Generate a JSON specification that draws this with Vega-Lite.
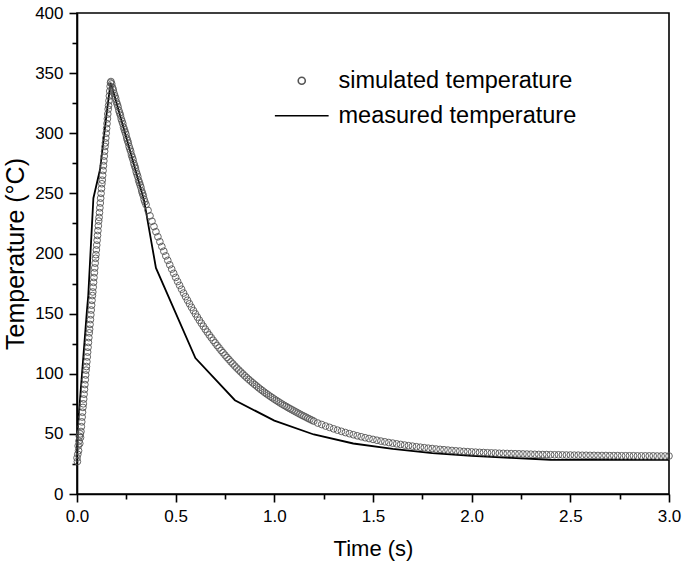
{
  "$schema": "https://vega.github.io/schema/vega-lite/v6.json",
  "width": 592,
  "height": 481,
  "autosize": "none",
  "padding": {"left": 77, "top": 13, "right": 17, "bottom": 81},
  "background": "white",
  "config": {
    "font": "Liberation Sans",
    "view": {"stroke": "black", "strokeWidth": 1.6},
    "axis": {
      "grid": false,
      "labelFlush": false,
      "labelOverlap": false,
      "domainColor": "black",
      "domainWidth": 1.6,
      "tickColor": "black",
      "tickWidth": 1.6,
      "labelColor": "black",
      "titleColor": "black",
      "labelFont": "Liberation Sans",
      "titleFont": "Liberation Sans",
      "labelFontSize": 17,
      "titleFontSize": 22,
      "titleFontWeight": "normal"
    },
    "legend": {
      "orient": "none",
      "legendX": 213,
      "legendY": 56,
      "padding": 0,
      "labelFont": "Liberation Sans",
      "labelFontSize": 23.5,
      "labelColor": "black",
      "labelLimit": 0,
      "labelOffset": 25,
      "rowPadding": 10,
      "symbolSize": 50,
      "symbolStrokeWidth": 1.6
    }
  },
  "datasets": {
    "simulated": [
      {"t": 0, "temp": 30}, {"t": 0.002, "temp": 27}, {"t": 0.004, "temp": 33}, {"t": 0.006, "temp": 40},
      {"t": 0.008, "temp": 36}, {"t": 0.01, "temp": 44}, {"t": 0.012, "temp": 48}, {"t": 0.014, "temp": 42},
      {"t": 0.016, "temp": 50}, {"t": 0.018, "temp": 47}, {"t": 0.02, "temp": 52},
      {"t": 0.022, "temp": 56}, {"t": 0.024, "temp": 60}, {"t": 0.026, "temp": 64}, {"t": 0.028, "temp": 68},
      {"t": 0.03, "temp": 72}, {"t": 0.032, "temp": 75}, {"t": 0.034, "temp": 79}, {"t": 0.036, "temp": 83},
      {"t": 0.038, "temp": 87}, {"t": 0.04, "temp": 91}, {"t": 0.042, "temp": 95}, {"t": 0.044, "temp": 99},
      {"t": 0.046, "temp": 103}, {"t": 0.048, "temp": 106}, {"t": 0.05, "temp": 110}, {"t": 0.052, "temp": 114},
      {"t": 0.054, "temp": 118}, {"t": 0.056, "temp": 122}, {"t": 0.058, "temp": 126}, {"t": 0.06, "temp": 130},
      {"t": 0.062, "temp": 134}, {"t": 0.064, "temp": 137}, {"t": 0.066, "temp": 141}, {"t": 0.068, "temp": 145},
      {"t": 0.07, "temp": 149}, {"t": 0.072, "temp": 153}, {"t": 0.074, "temp": 157}, {"t": 0.076, "temp": 161},
      {"t": 0.078, "temp": 165}, {"t": 0.08, "temp": 168}, {"t": 0.082, "temp": 172}, {"t": 0.084, "temp": 176},
      {"t": 0.086, "temp": 180}, {"t": 0.088, "temp": 184}, {"t": 0.09, "temp": 188}, {"t": 0.092, "temp": 192},
      {"t": 0.094, "temp": 196}, {"t": 0.096, "temp": 199}, {"t": 0.098, "temp": 203}, {"t": 0.1, "temp": 207},
      {"t": 0.102, "temp": 211}, {"t": 0.104, "temp": 215}, {"t": 0.106, "temp": 219}, {"t": 0.108, "temp": 223},
      {"t": 0.11, "temp": 227}, {"t": 0.112, "temp": 230}, {"t": 0.114, "temp": 234}, {"t": 0.116, "temp": 238},
      {"t": 0.118, "temp": 242}, {"t": 0.12, "temp": 246}, {"t": 0.122, "temp": 250}, {"t": 0.124, "temp": 254},
      {"t": 0.126, "temp": 258}, {"t": 0.128, "temp": 261}, {"t": 0.13, "temp": 265}, {"t": 0.132, "temp": 269},
      {"t": 0.134, "temp": 273}, {"t": 0.136, "temp": 277}, {"t": 0.138, "temp": 281}, {"t": 0.14, "temp": 285},
      {"t": 0.142, "temp": 289}, {"t": 0.144, "temp": 292}, {"t": 0.146, "temp": 296}, {"t": 0.148, "temp": 300},
      {"t": 0.15, "temp": 304}, {"t": 0.152, "temp": 308}, {"t": 0.154, "temp": 312}, {"t": 0.156, "temp": 316},
      {"t": 0.158, "temp": 320}, {"t": 0.16, "temp": 323}, {"t": 0.162, "temp": 327}, {"t": 0.164, "temp": 331},
      {"t": 0.166, "temp": 335}, {"t": 0.168, "temp": 339}, {"t": 0.17, "temp": 342}, {"t": 0.172, "temp": 343},
      {"t": 0.176, "temp": 341}, {"t": 0.18, "temp": 338}, {"t": 0.184, "temp": 336}, {"t": 0.188, "temp": 333},
      {"t": 0.192, "temp": 331}, {"t": 0.196, "temp": 329}, {"t": 0.2, "temp": 326}, {"t": 0.204, "temp": 324},
      {"t": 0.208, "temp": 322}, {"t": 0.212, "temp": 319}, {"t": 0.216, "temp": 317}, {"t": 0.22, "temp": 315},
      {"t": 0.224, "temp": 312}, {"t": 0.228, "temp": 310}, {"t": 0.232, "temp": 308}, {"t": 0.236, "temp": 305},
      {"t": 0.24, "temp": 303}, {"t": 0.244, "temp": 301}, {"t": 0.248, "temp": 299}, {"t": 0.252, "temp": 296},
      {"t": 0.256, "temp": 294}, {"t": 0.26, "temp": 292}, {"t": 0.264, "temp": 289}, {"t": 0.268, "temp": 287},
      {"t": 0.272, "temp": 285}, {"t": 0.276, "temp": 282}, {"t": 0.28, "temp": 280}, {"t": 0.284, "temp": 278},
      {"t": 0.288, "temp": 275}, {"t": 0.292, "temp": 273}, {"t": 0.296, "temp": 271}, {"t": 0.3, "temp": 268},
      {"t": 0.304, "temp": 266}, {"t": 0.308, "temp": 264}, {"t": 0.312, "temp": 261}, {"t": 0.316, "temp": 259},
      {"t": 0.32, "temp": 257}, {"t": 0.324, "temp": 255}, {"t": 0.328, "temp": 252}, {"t": 0.332, "temp": 250},
      {"t": 0.336, "temp": 248}, {"t": 0.34, "temp": 245}, {"t": 0.344, "temp": 243},
      {"t": 0.35, "temp": 240.6}, {"t": 0.36, "temp": 235.9}, {"t": 0.37, "temp": 231.3}, {"t": 0.38, "temp": 226.8},
      {"t": 0.39, "temp": 222.4}, {"t": 0.4, "temp": 218.1}, {"t": 0.41, "temp": 213.9}, {"t": 0.42, "temp": 209.8},
      {"t": 0.43, "temp": 205.8}, {"t": 0.44, "temp": 201.9}, {"t": 0.45, "temp": 198.0}, {"t": 0.46, "temp": 194.3},
      {"t": 0.47, "temp": 190.6}, {"t": 0.48, "temp": 187.0}, {"t": 0.49, "temp": 183.5}, {"t": 0.5, "temp": 180.1},
      {"t": 0.51, "temp": 176.7}, {"t": 0.52, "temp": 173.5}, {"t": 0.53, "temp": 170.3}, {"t": 0.54, "temp": 167.1},
      {"t": 0.55, "temp": 164.1}, {"t": 0.56, "temp": 161.1}, {"t": 0.57, "temp": 158.2}, {"t": 0.58, "temp": 155.3},
      {"t": 0.59, "temp": 152.5}, {"t": 0.6, "temp": 149.8}, {"t": 0.61, "temp": 147.1}, {"t": 0.62, "temp": 144.5},
      {"t": 0.63, "temp": 142.0}, {"t": 0.64, "temp": 139.5}, {"t": 0.65, "temp": 137.0}, {"t": 0.66, "temp": 134.7},
      {"t": 0.67, "temp": 132.3}, {"t": 0.68, "temp": 130.1}, {"t": 0.69, "temp": 127.8}, {"t": 0.7, "temp": 125.7},
      {"t": 0.71, "temp": 123.5}, {"t": 0.72, "temp": 121.5}, {"t": 0.73, "temp": 119.4}, {"t": 0.74, "temp": 117.5},
      {"t": 0.75, "temp": 115.5}, {"t": 0.76, "temp": 113.6}, {"t": 0.77, "temp": 111.8}, {"t": 0.78, "temp": 109.9},
      {"t": 0.79, "temp": 108.2}, {"t": 0.8, "temp": 106.4}, {"t": 0.81, "temp": 104.7}, {"t": 0.82, "temp": 103.1},
      {"t": 0.83, "temp": 101.5}, {"t": 0.84, "temp": 99.9}, {"t": 0.85, "temp": 98.3}, {"t": 0.86, "temp": 96.8},
      {"t": 0.87, "temp": 95.3}, {"t": 0.88, "temp": 93.9}, {"t": 0.89, "temp": 92.5}, {"t": 0.9, "temp": 91.1},
      {"t": 0.91, "temp": 89.8}, {"t": 0.92, "temp": 88.4}, {"t": 0.93, "temp": 87.1}, {"t": 0.94, "temp": 85.9},
      {"t": 0.95, "temp": 84.6}, {"t": 0.96, "temp": 83.4}, {"t": 0.97, "temp": 82.3}, {"t": 0.98, "temp": 81.1},
      {"t": 0.99, "temp": 80.0}, {"t": 1.0, "temp": 78.9}, {"t": 1.01, "temp": 77.8}, {"t": 1.02, "temp": 76.8},
      {"t": 1.03, "temp": 75.7}, {"t": 1.04, "temp": 74.7}, {"t": 1.05, "temp": 73.7}, {"t": 1.06, "temp": 72.8},
      {"t": 1.07, "temp": 71.8}, {"t": 1.08, "temp": 70.9}, {"t": 1.09, "temp": 70.0}, {"t": 1.1, "temp": 69.1},
      {"t": 1.11, "temp": 68.2}, {"t": 1.12, "temp": 67.3}, {"t": 1.13, "temp": 66.4}, {"t": 1.14, "temp": 65.5},
      {"t": 1.15, "temp": 64.7}, {"t": 1.16, "temp": 63.9}, {"t": 1.17, "temp": 63.0}, {"t": 1.18, "temp": 62.2},
      {"t": 1.19, "temp": 61.4}, {"t": 1.2, "temp": 60.6},
      {"t": 1.22, "temp": 59.0}, {"t": 1.24, "temp": 57.8}, {"t": 1.26, "temp": 56.5}, {"t": 1.28, "temp": 55.4},
      {"t": 1.3, "temp": 54.2}, {"t": 1.32, "temp": 53.1}, {"t": 1.34, "temp": 52.1}, {"t": 1.36, "temp": 51.1},
      {"t": 1.38, "temp": 50.2}, {"t": 1.4, "temp": 49.3}, {"t": 1.42, "temp": 48.4}, {"t": 1.44, "temp": 47.6},
      {"t": 1.46, "temp": 46.8}, {"t": 1.48, "temp": 46.1}, {"t": 1.5, "temp": 45.4}, {"t": 1.52, "temp": 44.7},
      {"t": 1.54, "temp": 44.0}, {"t": 1.56, "temp": 43.4}, {"t": 1.58, "temp": 42.8}, {"t": 1.6, "temp": 42.3},
      {"t": 1.62, "temp": 41.7}, {"t": 1.64, "temp": 41.2}, {"t": 1.66, "temp": 40.7}, {"t": 1.68, "temp": 40.2},
      {"t": 1.7, "temp": 39.8}, {"t": 1.72, "temp": 39.3}, {"t": 1.74, "temp": 38.9}, {"t": 1.76, "temp": 38.5},
      {"t": 1.78, "temp": 38.1}, {"t": 1.8, "temp": 37.8}, {"t": 1.82, "temp": 37.4}, {"t": 1.84, "temp": 37.1},
      {"t": 1.86, "temp": 36.8}, {"t": 1.88, "temp": 36.5}, {"t": 1.9, "temp": 36.2}, {"t": 1.92, "temp": 35.9},
      {"t": 1.94, "temp": 35.7}, {"t": 1.96, "temp": 35.4}, {"t": 1.98, "temp": 35.2}, {"t": 2.0, "temp": 35.0},
      {"t": 2.02, "temp": 34.8}, {"t": 2.04, "temp": 34.6}, {"t": 2.06, "temp": 34.5}, {"t": 2.08, "temp": 34.3},
      {"t": 2.1, "temp": 34.2}, {"t": 2.12, "temp": 34.1}, {"t": 2.14, "temp": 33.9}, {"t": 2.16, "temp": 33.8},
      {"t": 2.18, "temp": 33.7}, {"t": 2.2, "temp": 33.6}, {"t": 2.22, "temp": 33.5}, {"t": 2.24, "temp": 33.4},
      {"t": 2.26, "temp": 33.3}, {"t": 2.28, "temp": 33.2}, {"t": 2.3, "temp": 33.1}, {"t": 2.32, "temp": 33.0},
      {"t": 2.34, "temp": 32.9}, {"t": 2.36, "temp": 32.8}, {"t": 2.38, "temp": 32.8}, {"t": 2.4, "temp": 32.7},
      {"t": 2.42, "temp": 32.6}, {"t": 2.44, "temp": 32.6}, {"t": 2.46, "temp": 32.5}, {"t": 2.48, "temp": 32.4},
      {"t": 2.5, "temp": 32.4}, {"t": 2.52, "temp": 32.3}, {"t": 2.54, "temp": 32.3}, {"t": 2.56, "temp": 32.2},
      {"t": 2.58, "temp": 32.2}, {"t": 2.6, "temp": 32.1}, {"t": 2.62, "temp": 32.1}, {"t": 2.64, "temp": 32.0},
      {"t": 2.66, "temp": 32.0}, {"t": 2.68, "temp": 32.0}, {"t": 2.7, "temp": 31.9}, {"t": 2.72, "temp": 31.9},
      {"t": 2.74, "temp": 31.9}, {"t": 2.76, "temp": 31.8}, {"t": 2.78, "temp": 31.8}, {"t": 2.8, "temp": 31.8},
      {"t": 2.82, "temp": 31.8}, {"t": 2.84, "temp": 31.7}, {"t": 2.86, "temp": 31.7}, {"t": 2.88, "temp": 31.7},
      {"t": 2.9, "temp": 31.7}, {"t": 2.92, "temp": 31.7}, {"t": 2.94, "temp": 31.6}, {"t": 2.96, "temp": 31.6},
      {"t": 2.98, "temp": 31.6}, {"t": 3.0, "temp": 31.6}
    ],
    "measured": [
      {"t": 0, "temp": 28}, {"t": 0.004, "temp": 55}, {"t": 0.05, "temp": 152}, {"t": 0.057, "temp": 165},
      {"t": 0.083, "temp": 246}, {"t": 0.117, "temp": 270}, {"t": 0.15, "temp": 316}, {"t": 0.17, "temp": 342},
      {"t": 0.18, "temp": 337}, {"t": 0.34, "temp": 244}, {"t": 0.4, "temp": 188}, {"t": 0.6, "temp": 113},
      {"t": 0.8, "temp": 78}, {"t": 1.0, "temp": 61}, {"t": 1.2, "temp": 49.5}, {"t": 1.4, "temp": 42},
      {"t": 1.6, "temp": 37.5}, {"t": 1.8, "temp": 34}, {"t": 2.0, "temp": 31.8}, {"t": 2.2, "temp": 30},
      {"t": 2.4, "temp": 28.5}, {"t": 2.6, "temp": 28.3}, {"t": 2.8, "temp": 28.3}, {"t": 3.0, "temp": 28.3}
    ]
  },
  "encoding": {
    "x": {
      "field": "t",
      "type": "quantitative",
      "scale": {"domain": [0, 3], "nice": false},
      "axis": {
        "title": "Time (s)",
        "values": [0, 0.25, 0.5, 0.75, 1, 1.25, 1.5, 1.75, 2, 2.25, 2.5, 2.75, 3],
        "format": ".1f",
        "labelExpr": "abs(datum.value % 0.5) < 0.001 ? datum.label : ''",
        "tickSize": {"condition": {"test": "abs(datum.value % 0.5) < 0.001", "value": 8}, "value": 5},
        "labelPadding": 6,
        "titlePadding": 14
      }
    },
    "y": {
      "field": "temp",
      "type": "quantitative",
      "scale": {"domain": [0, 400], "nice": false},
      "axis": {
        "title": "Temperature (°C)",
        "titleFontSize": 25,
        "values": [0, 25, 50, 75, 100, 125, 150, 175, 200, 225, 250, 275, 300, 325, 350, 375, 400],
        "labelExpr": "datum.value % 50 === 0 ? datum.label : ''",
        "tickSize": {"condition": {"test": "datum.value % 50 === 0", "value": 8}, "value": 5},
        "labelPadding": 6,
        "titlePadding": 6
      }
    }
  },
  "layer": [
    {
      "data": {"name": "measured"},
      "mark": {"type": "line", "strokeWidth": 1.8, "clip": true},
      "encoding": {
        "color": {
          "datum": "measured temperature",
          "type": "nominal",
          "scale": {"domain": ["simulated temperature", "measured temperature"], "range": ["#555555", "black"]},
          "legend": {"title": null}
        }
      }
    },
    {
      "data": {"name": "simulated"},
      "mark": {"type": "point", "filled": false, "size": 45, "strokeWidth": 0.9, "opacity": 1},
      "encoding": {
        "color": {"datum": "simulated temperature", "type": "nominal", "legend": {"title": null}},
        "shape": {
          "datum": "simulated temperature",
          "type": "nominal",
          "scale": {"domain": ["simulated temperature", "measured temperature"], "range": ["circle", "M-7.6,0L7.6,0"]},
          "legend": {"title": null}
        }
      }
    }
  ]
}
